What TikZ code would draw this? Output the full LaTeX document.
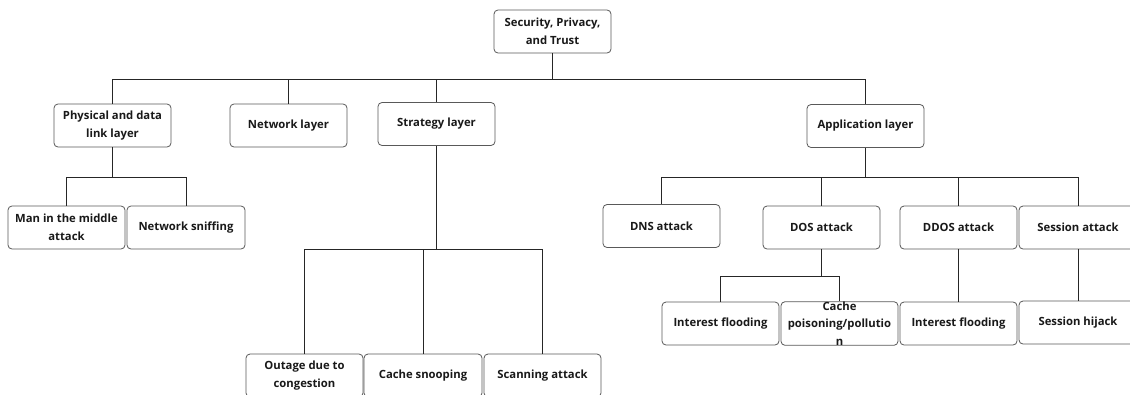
\documentclass[tikz,border=0pt]{standalone}
\usepackage{fontspec}
\setmainfont{Open Sans}
\begin{document}
\begin{tikzpicture}[x=1pt,y=-1pt,
  box/.style={draw=black!65, line width=0.8pt, rounded corners=4pt, minimum width=117pt, minimum height=43pt,
    inner sep=0pt, align=center, font=\fontsize{11.3}{17.5}\selectfont\bfseries, text=black!90},
  link/.style={draw=black!85, line width=0.9pt}]
\useasboundingbox[fill=white] (0,0) rectangle (1130,394);
% level 0
\node[box] (root) at (552.5,31.5) {Security, Privacy,\\and Trust};
% level 1
\node[box] (phys) at (112.5,125.5) {Physical and data\\link layer};
\node[box] (net) at (288.5,125.5) {Network layer};
\node[box] (strat) at (436.5,124) {Strategy layer};
\node[box] (app) at (865.5,126) {Application layer};
% level 2
\node[box] (mitm) at (66.5,227.5) {Man in the middle\\attack};
\node[box, minimum width=118pt] (sniff) at (186,227.5) {Network sniffing};
\node[box] (dns) at (661.5,226) {DNS attack};
\node[box] (dos) at (821.5,227.5) {DOS attack};
\node[box] (ddos) at (958.5,227.5) {DDOS attack};
\node[box, minimum width=118pt] (sess) at (1078,227.5) {Session attack};
% level 3
\node[box] (outage) at (304.5,375.5) {Outage due to\\congestion};
\node[box, minimum width=118pt] (snoop) at (423,375.5) {Cache snooping};
\node[box] (scan) at (542.5,375.5) {Scanning attack};
\node[box] (if1) at (720.5,323.5) {Interest flooding};
\node[box] (poison) at (839.5,323.5) {Cache\\poisoning/pollutio\\n};
\node[box] (if2) at (958.5,323.5) {Interest flooding};
\node[box, minimum width=118pt] (hijack) at (1078,322.5) {Session hijack};
% bus levels
\coordinate (b0) at (0,79);
\coordinate (b1) at (0,177);
\coordinate (b2) at (0,249);
\coordinate (b3) at (0,276);
% connectors
\draw[link] (root.south) -- (root.south |- b0);
\draw[link] (phys.north) -- (phys.north |- b0) -- (app.north |- b0) -- (app.north);
\draw[link] (net.north) -- (net.north |- b0);
\draw[link] (strat.north) -- (strat.north |- b0);
\draw[link] (phys.south) -- (phys.south |- b1);
\draw[link] (mitm.north) -- (mitm.north |- b1) -- (sniff.north |- b1) -- (sniff.north);
\draw[link] (strat.south) -- (strat.south |- b2);
\draw[link] (outage.north) -- (outage.north |- b2) -- (scan.north |- b2) -- (scan.north);
\draw[link] (snoop.north) -- (snoop.north |- b2);
\draw[link] (app.south) -- (app.south |- b1);
\draw[link] (dns.north) -- (dns.north |- b1) -- (sess.north |- b1) -- (sess.north);
\draw[link] (dos.north) -- (dos.north |- b1);
\draw[link] (ddos.north) -- (ddos.north |- b1);
\draw[link] (dos.south) -- (dos.south |- b3);
\draw[link] (if1.north) -- (if1.north |- b3) -- (poison.north |- b3) -- (poison.north);
\draw[link] (ddos.south) -- (if2.north);
\draw[link] (sess.south) -- (hijack.north);
\end{tikzpicture}
\end{document}
